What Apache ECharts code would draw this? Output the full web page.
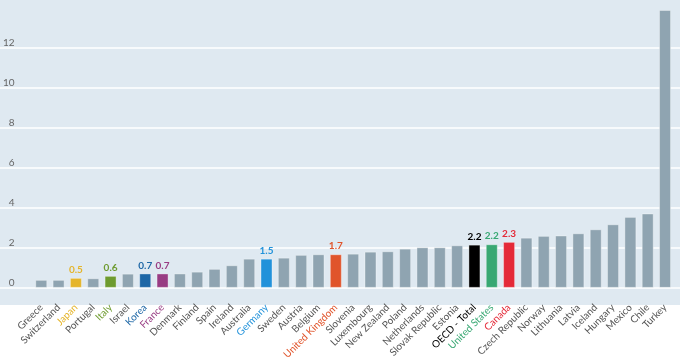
<!DOCTYPE html>
<html><head><meta charset="utf-8">
<script src="https://cdn.jsdelivr.net/npm/echarts@6/dist/echarts.min.js"></script>
<style>html,body{margin:0;padding:0;background:#fff}#c{width:680px;height:362px}</style>
</head><body><div id="c"></div>
<script>
const categories = ["Greece","Switzerland","Japan","Portugal","Italy","Israel","Korea","France","Denmark","Finland","Spain","Ireland","Australia","Germany","Sweden","Austria","Belgium","United Kingdom","Slovenia","Luxembourg","New Zealand","Poland","Netherlands","Slovak Republic","Estonia","OECD - Total","United States","Canada","Czech Republic","Norway","Lithuania","Latvia","Iceland","Hungary","Mexico","Chile","Turkey"];
const values = [0.4,0.4,0.5,0.48,0.6,0.71,0.72,0.72,0.72,0.81,0.95,1.13,1.46,1.46,1.51,1.65,1.68,1.68,1.71,1.81,1.83,1.96,2.03,2.03,2.13,2.16,2.18,2.3,2.51,2.6,2.62,2.73,2.93,3.18,3.55,3.72,13.9];
const highlight = {"Japan":["#e5b52b","0.5"],"Italy":["#6e9b2f","0.6"],"Korea":["#1e67a6","0.7"],"France":["#983c83","0.7"],"Germany":["#2292da","1.5"],"United Kingdom":["#e0542b","1.7"],"OECD - Total":["#000000","2.2"],"United States":["#38a873","2.2"],"Canada":["#e42a38","2.3"]};
const yTicks = [0,2,4,6,8,10,12];
const baseColor = "#8fa4b1";
const labelGray = "#555555";

const chart = echarts.init(document.getElementById('c'));
const data = categories.map((c,i)=>{
  const h = highlight[c];
  const item = {value: values[i], itemStyle:{color: h ? h[0] : baseColor}};
  if (h) item.label = {show:true, position:'top', distance:3, color:h[0], fontSize:10, fontWeight:'bold', fontFamily:'Lato', formatter: h[1]};
  return item;
});
const ymax = 14.4;
chart.setOption({
  animation:false,
  graphic:[{type:'rect', z:-10, shape:{x:0,y:0,width:680,height:305}, style:{fill:'#dfe9f1'}}],
  grid:[
    {left:31.3, right:6.3, top:0, bottom:74},
    {left:0, right:0, top:0, bottom:74}
  ],
  xAxis:[
    {type:'category', gridIndex:0, data:categories, axisLine:{show:false}, axisTick:{show:false},
     axisLabel:{interval:0, rotate:45, margin:18, fontSize:10, fontFamily:'Lato',
       color:(v)=> highlight[v] ? highlight[v][0] : labelGray}},
    {type:'value', gridIndex:1, show:false, min:0, max:1}
  ],
  yAxis:[
    {type:'value', gridIndex:0, min:0, max:ymax, interval:2, splitLine:{show:false},
     axisLine:{show:false}, axisTick:{show:false},
     axisLabel:{margin:18, fontSize:10, fontFamily:'Lato', color:'#666', verticalAlign:'bottom',
       formatter:(v)=> yTicks.indexOf(v) >= 0 ? String(v) : ''}},
    {type:'value', gridIndex:1, min:0, max:ymax, interval:2, axisLine:{show:false}, axisTick:{show:false}, axisLabel:{show:false},
     splitLine:{show:true, lineStyle:{width:1.5, color:['#ffffff','#ffffff','#ffffff','#ffffff','#ffffff','#ffffff','#ffffff','rgba(0,0,0,0)','rgba(0,0,0,0)']}}}
  ],
  series:[{type:'bar', xAxisIndex:0, yAxisIndex:0, data:data, barWidth:12,
    itemStyle:{borderColor:'rgba(255,255,255,0.35)', borderWidth:1}}]
});
</script></body></html>
